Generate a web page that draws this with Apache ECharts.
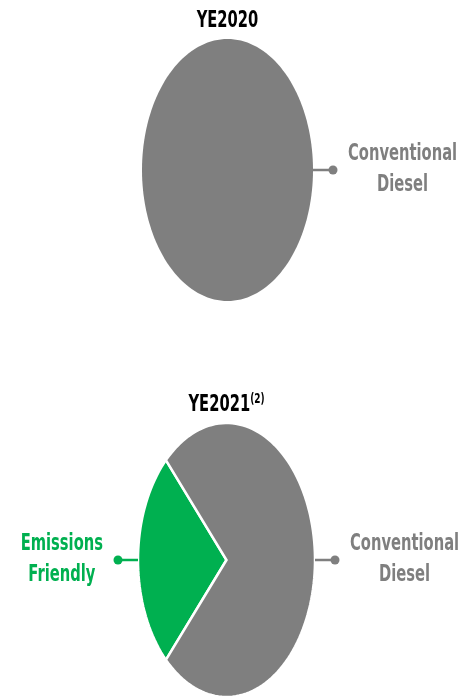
<!DOCTYPE html>
<html>
<head>
<meta charset="utf-8">
<script src="https://cdn.jsdelivr.net/npm/echarts@6/dist/echarts.min.js"></script>
<style>
  html, body { margin: 0; padding: 0; background: #fff; }
  #chart { width: 474px; height: 698px; }
</style>
</head>
<body>
<div id="chart"></div>
<script>
// shares in percent
const periods = ['YE2020', 'YE2021'];
const periodNotes = ['', '(2)'];
const categories = ['Emissions\nFriendly', 'Conventional\nDiesel'];
const emissionsFriendly = [0, 26];
const conventionalDiesel = [100, 74];

const COLORS = ['#00b050', '#7f7f7f'];
const FONT = 'DejaVu Sans';
const FONT_SIZE = 23;
// the source picture is squeezed sideways, so text is squeezed too
const SQUISH = 0.64;

// bounding box of each (elliptical) pie
const boxes = [
  { left: 142, top: 39, width: 171, height: 262 },
  { left: 138, top: 423, width: 177, height: 274 }
];

const ctx = document.createElement('canvas').getContext('2d');
function blockWidth(str) {
  ctx.font = 'bold ' + FONT_SIZE + 'px "' + FONT + '"';
  return Math.max(...str.split('\n').map(s => ctx.measureText(s).width)) * SQUISH;
}

// one slice of an ellipse: unit circle points go through the x/y axes,
// which have different pixel lengths, so the circle comes out stretched
function renderSlice(params, api) {
  const share = api.value(2);
  if (!share) return null;
  const a0 = api.value(3) * Math.PI / 180;
  const a1 = a0 + share / 100 * Math.PI * 2;
  const full = share >= 100;
  const steps = Math.max(4, Math.ceil(share * 1.6));
  const points = full ? [] : [api.coord([0, 0])];
  for (let s = 0; s <= steps; s++) {
    const a = a0 + (a1 - a0) * s / steps;
    points.push(api.coord([Math.cos(a), Math.sin(a)]));
  }
  const color = COLORS[params.dataIndex];
  const mid = (a0 + a1) / 2;
  const edge = api.coord([Math.cos(mid), Math.sin(mid)]);
  const dir = Math.cos(mid) >= 0 ? 1 : -1;
  const dot = [edge[0] + dir * 20, edge[1]];
  const label = categories[params.dataIndex];
  const half = blockWidth(label) / 2;
  return {
    type: 'group',
    children: [
      {
        type: 'polygon',
        shape: { points: points },
        style: { fill: color, stroke: '#fff', lineWidth: full ? 0 : 2.5 }
      },
      {
        type: 'line',
        shape: { x1: edge[0], y1: edge[1], x2: dot[0], y2: dot[1] },
        style: { stroke: color, lineWidth: 2.5 }
      },
      {
        type: 'circle',
        shape: { cx: dot[0], cy: dot[1], r: 4.5 },
        style: { fill: color }
      },
      {
        type: 'text',
        x: dot[0] + dir * (15 + half),
        y: dot[1],
        scaleX: SQUISH,
        style: {
          text: label,
          x: 0,
          y: 0,
          align: 'center',
          verticalAlign: 'middle',
          fontFamily: FONT,
          fontWeight: 'bold',
          fontSize: FONT_SIZE,
          lineHeight: 31,
          fill: color
        }
      }
    ]
  };
}

// series data: [x, y, share, start angle]; first slice centred on the left
function sliceData(i) {
  const shares = [emissionsFriendly[i], conventionalDiesel[i]];
  let start = 180 - shares[0] * 1.8;
  return shares.map((v, k) => {
    const item = { name: categories[k], value: [0, 0, v, start] };
    start += v * 3.6;
    return item;
  });
}

const chart = echarts.init(document.getElementById('chart'));

chart.setOption({
  backgroundColor: '#fff',
  animation: false,
  grid: boxes.map(b => ({ left: b.left, top: b.top, width: b.width, height: b.height })),
  xAxis: boxes.map((b, i) => ({ gridIndex: i, type: 'value', min: -1, max: 1, show: false })),
  yAxis: boxes.map((b, i) => ({ gridIndex: i, type: 'value', min: -1, max: 1, show: false })),
  graphic: boxes.map((b, i) => ({
    type: 'text',
    x: b.left + b.width / 2,
    y: b.top - 18,
    scaleX: SQUISH,
    style: {
      text: '{a|' + periods[i] + '}' + (periodNotes[i] ? '{b|' + periodNotes[i] + '}' : ''),
      x: 0,
      y: 0,
      align: 'center',
      verticalAlign: 'middle',
      rich: {
        a: { fontFamily: FONT, fontWeight: 'bold', fontSize: FONT_SIZE, fill: '#000', lineHeight: 26 },
        b: { fontFamily: FONT, fontWeight: 'bold', fontSize: 14, fill: '#000', verticalAlign: 'top', lineHeight: 26 }
      }
    }
  })),
  series: periods.map((p, i) => ({
    type: 'custom',
    name: p,
    coordinateSystem: 'cartesian2d',
    xAxisIndex: i,
    yAxisIndex: i,
    silent: true,
    renderItem: renderSlice,
    data: sliceData(i)
  }))
});
</script>
</body>
</html>
